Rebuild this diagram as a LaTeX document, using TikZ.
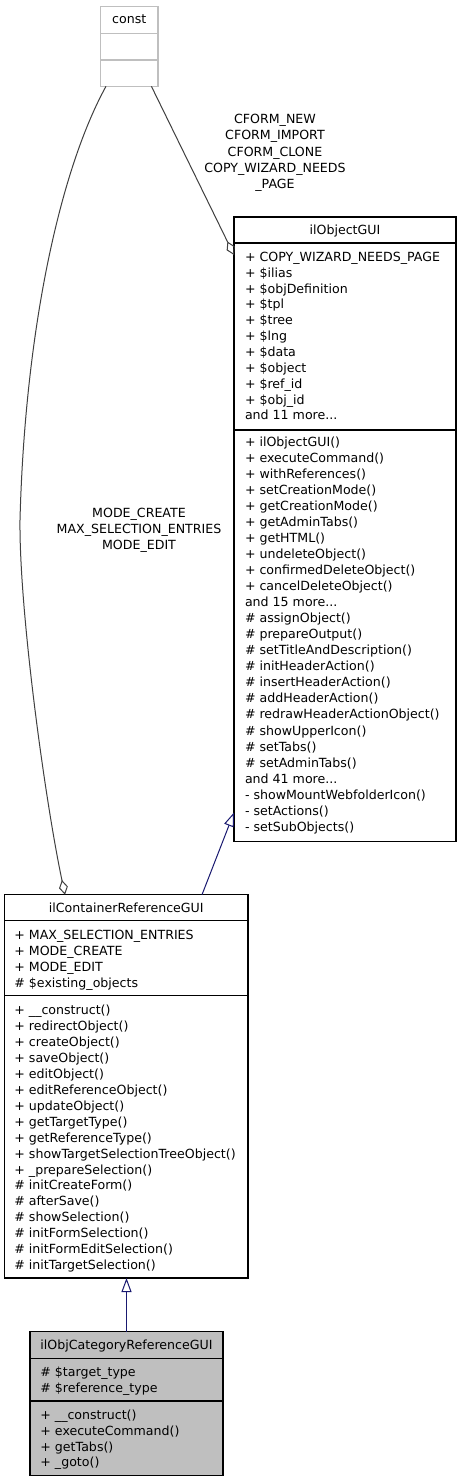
\documentclass[tikz,border=0pt]{standalone}
\usepackage{fontspec}
\setmainfont{DejaVu Sans}
\usetikzlibrary{arrows.meta,calc}
\definecolor{edgegray}{HTML}{404040}
\definecolor{inhblue}{HTML}{191970}
\definecolor{boxgray}{HTML}{BFBFBF}
\newcommand\tdots{...}
\newcommand\umlLines[5]{\foreach \t [count=\i from 0] in {#5}{\node[anchor=base west,name=#1\i] at (#2,#3+\i*#4) {\t};}}
\newcommand\umlCenter[5]{\foreach \t [count=\i from 0] in {#5}{\node[anchor=base,name=#1\i] at (#2,#3+\i*#4) {\t};}}
\tikzset{
  classbox/.style={draw=black,line width=1.2bp,anchor=north west},
  divider/.style={line width=1.2bp},
  aggr/.style={draw=edgegray,line width=1bp,-{Diamond[open,length=15bp,width=9bp]}},
  inh/.style={draw=inhblue,line width=1bp,-{Triangle[open,length=14bp,width=10bp]}}
}
\begin{document}
\begin{tikzpicture}[x=1bp,y=-1bp,every node/.style={inner sep=0pt,outer sep=0pt,font=\fontsize{12.6bp}{16bp}\selectfont}]
\fill[white] (0,0) rectangle (461,1483);
\useasboundingbox (0,0) rectangle (461,1483);

% const
\node[classbox,draw=boxgray,minimum width=57.3bp,minimum height=80bp] (const) at (100.7,6.3) {};
\draw[divider,draw=boxgray] ($(const.north west)+(0,27)$) -- ($(const.north east)+(0,27)$);
\draw[divider,draw=boxgray] ($(const.north west)+(0,53.7)$) -- ($(const.north east)+(0,53.7)$);
\node[anchor=base] (constT) at (129.3,24) {const};

% ilObjectGUI
\node[classbox,minimum width=222bp,minimum height=624.5bp] (objgui) at (234,217) {};
\draw[divider] ($(objgui.north west)+(0,26)$) -- ($(objgui.north east)+(0,26)$);
\draw[divider] ($(objgui.north west)+(0,213)$) -- ($(objgui.north east)+(0,213)$);
\node[anchor=base] (objguiT) at (345,234) {ilObjectGUI};
\umlLines{ogA}{245}{261.3}{15.86}{+ COPY\_WIZARD\_NEEDS\_PAGE,+ \$ilias,+ \$objDefinition,+ \$tpl,+ \$tree,+ \$lng,+ \$data,+ \$object,+ \$ref\_id,+ \$obj\_id,and 11 more\tdots}
\umlLines{ogM}{245}{446.3}{16.04}{+ ilObjectGUI(),+ executeCommand(),+ withReferences(),+ setCreationMode(),+ getCreationMode(),+ getAdminTabs(),+ getHTML(),+ undeleteObject(),+ confirmedDeleteObject(),+ cancelDeleteObject(),and 15 more\tdots,\# assignObject(),\# prepareOutput(),\# setTitleAndDescription(),\# initHeaderAction(),\# insertHeaderAction(),\# addHeaderAction(),\# redrawHeaderActionObject(),\# showUpperIcon(),\# setTabs(),\# setAdminTabs(),and 41 more\tdots,- showMountWebfolderIcon(),- setActions(),- setSubObjects()}

% ilContainerReferenceGUI
\node[classbox,minimum width=243.3bp,minimum height=383.3bp] (crgui) at (4.7,894.7) {};
\draw[divider] ($(crgui.north west)+(0,26)$) -- ($(crgui.north east)+(0,26)$);
\draw[divider] ($(crgui.north west)+(0,101)$) -- ($(crgui.north east)+(0,101)$);
\node[anchor=base] (crguiT) at (126.3,912.3) {ilContainerReferenceGUI};
\umlLines{crA}{14.4}{939.6}{15.9}{+ MAX\_SELECTION\_ENTRIES,+ MODE\_CREATE,+ MODE\_EDIT,\# \$existing\_objects}
\umlLines{crM}{14.4}{1014.6}{15.94}{+ \_\_construct(),+ redirectObject(),+ createObject(),+ saveObject(),+ editObject(),+ editReferenceObject(),+ updateObject(),+ getTargetType(),+ getReferenceType(),+ showTargetSelectionTreeObject(),+ \_prepareSelection(),\# initCreateForm(),\# afterSave(),\# showSelection(),\# initFormSelection(),\# initFormEditSelection(),\# initTargetSelection()}

% ilObjCategoryReferenceGUI
\node[classbox,fill=boxgray,minimum width=193bp,minimum height=144bp] (ocgui) at (30,1331.7) {};
\draw[divider] ($(ocgui.north west)+(0,27)$) -- ($(ocgui.north east)+(0,27)$);
\draw[divider] ($(ocgui.north west)+(0,69.3)$) -- ($(ocgui.north east)+(0,69.3)$);
\node[anchor=base] (ocguiT) at (126.5,1349) {ilObjCategoryReferenceGUI};
\umlLines{ocA}{40.4}{1376.3}{16}{\# \$target\_type,\# \$reference\_type}
\umlLines{ocM}{40.4}{1419.6}{15.7}{+ \_\_construct(),+ executeCommand(),+ getTabs(),+ \_goto()}

% edge labels
\umlCenter{lbA}{275}{123.9}{16.1}{CFORM\_NEW,CFORM\_IMPORT,CFORM\_CLONE,COPY\_WIZARD\_NEEDS,\_PAGE}
\umlCenter{lbB}{139}{517.3}{15.9}{MODE\_CREATE,MAX\_SELECTION\_ENTRIES,MODE\_EDIT}

% connectors
\draw[aggr] ($(const.south west)+(50.7,0)$) -- ($(objgui.north west)+(0,38)$);
\draw[aggr] ($(const.south west)+(5.3,0)$) .. controls (60,170) and (25,330) .. (20,520) .. controls (19,610) and (45,800) .. ($(crgui.north west)+(60.3,0)$);
\draw[inh] ($(crgui.north west)+(197.3,0)$) -- ($(objgui.south west)+(0,-29)$);
\draw[inh] (ocgui.north) -- (ocgui.north |- crgui.south);
\end{tikzpicture}
\end{document}
